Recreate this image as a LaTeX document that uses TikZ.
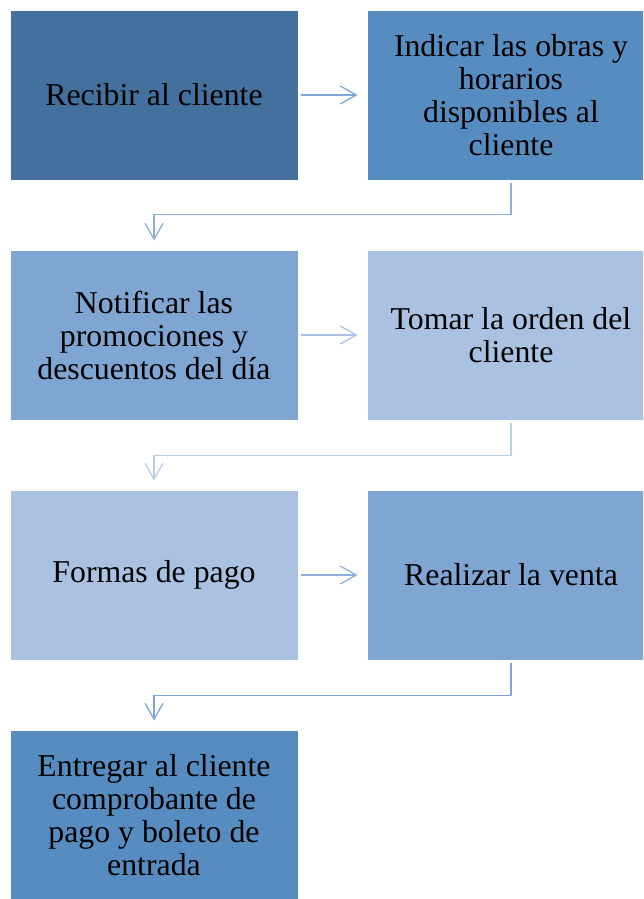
\documentclass[tikz,border=0pt]{standalone}
\usepackage{fontspec}
\setmainfont{Liberation Serif}
\usetikzlibrary{arrows.meta}
\definecolor{tonoA}{RGB}{67,112,157}
\definecolor{tonoB}{RGB}{87,140,192}
\definecolor{tonoC}{RGB}{127,166,210}
\definecolor{tonoD}{RGB}{169,194,226}
\definecolor{lineaA}{RGB}{126,166,214}
\definecolor{lineaB}{RGB}{142,175,216}
\definecolor{lineaC}{RGB}{168,195,229}
\definecolor{lineaD}{RGB}{185,207,233}
\begin{document}
\begin{tikzpicture}[x=1pt,y=1pt,
    paso/.style={draw=white,line width=0.8pt,minimum width=288pt,minimum height=170pt,
      align=center,font=\fontsize{31.8}{33}\selectfont},
    flecha/.style={line width=1.3pt,-{Straight Barb[length=16pt,width=18pt,line width=1.3pt]},shorten <=3pt,shorten >=9pt}]
    \useasboundingbox (0,0) rectangle (643,-899);
    \clip (0,0) rectangle (643,-899);
    \node[paso,fill=tonoA] (recibir) at (154,-95) {Recibir al cliente};
    \node[paso,fill=tonoB] (indicar) at (511,-95) {Indicar las obras y\\horarios\\disponibles al\\cliente};
    \node[paso,fill=tonoC] (notificar) at (154,-335) {Notificar las\\promociones y\\descuentos del día};
    \node[paso,fill=tonoD] (tomar) at (511,-335) {Tomar la orden del\\cliente};
    \node[paso,fill=tonoD] (formas) at (154,-575) {Formas de pago};
    \node[paso,fill=tonoC] (realizar) at (511,-575) {Realizar la venta};
    \node[paso,fill=tonoB] (entregar) at (154,-815) {Entregar al cliente\\comprobante de\\pago y boleto de\\entrada};
    \draw[flecha,lineaA] (recibir) -- (indicar);
    \draw[flecha,lineaB] (indicar.south) -- ++(0,-34) -| (notificar.north);
    \draw[flecha,lineaC] (notificar) -- (tomar);
    \draw[flecha,lineaD] (tomar.south) -- ++(0,-35) -| (formas.north);
    \draw[flecha,lineaB] (formas) -- (realizar);
    \draw[flecha,lineaA] (realizar.south) -- ++(0,-35) -| (entregar.north);
\end{tikzpicture}
\end{document}
